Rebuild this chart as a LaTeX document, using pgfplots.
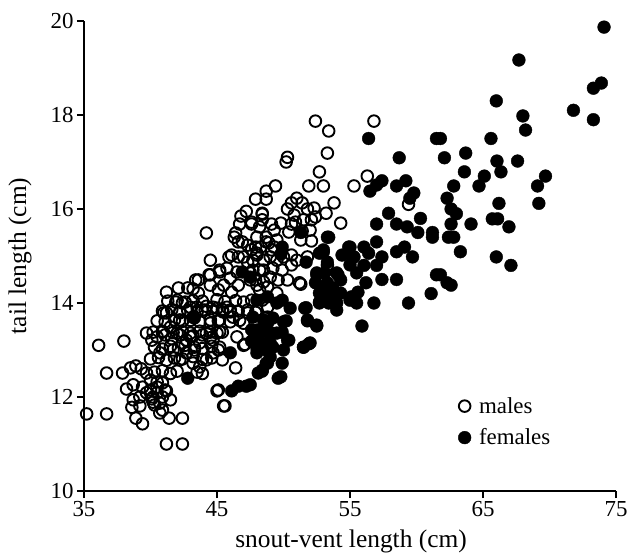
\documentclass[border=0pt]{standalone}
\usepackage{fontspec}
\setmainfont{Liberation Serif}
\usepackage{pgfplots}
\usepackage{pgfplotstable}
\pgfplotsset{compat=1.18}
\pgfplotstableread{
x y
35.2 11.64
36.7 11.64
36.1 13.10
38.0 13.19
36.7 12.51
37.9 12.51
38.5 12.62
38.9 12.66
39.3 12.60
39.7 12.51
38.2 12.17
38.7 12.26
39.4 12.21
40.0 12.15
40.5 12.32
40.9 12.30
41.2 12.13
38.7 11.94
39.2 11.81
38.6 11.78
40.1 11.96
40.3 11.83
40.9 11.72
40.7 11.66
38.9 11.55
39.4 11.43
41.4 11.55
42.4 11.55
41.2 11.00
42.4 11.00
45.5 11.81
45.0 12.13
46.4 12.62
47.0 13.10
39.7 13.36
40.1 13.21
40.9 13.38
41.2 13.79
41.5 13.49
42.0 13.36
42.2 13.64
42.4 13.15
43.0 13.28
43.3 13.00
43.7 13.15
44.2 13.36
44.7 13.21
45.1 13.00
45.4 13.38
46.0 13.85
45.2 13.64
44.5 13.57
43.5 13.91
44.2 13.93
45.0 13.89
45.75 13.91
47.0 13.57
46.5 13.28
40.7 12.94
41.7 13.00
42.2 12.79
42.7 12.94
43.2 12.72
43.7 12.64
44.2 12.79
44.7 12.94
40.0 12.36
40.5 12.21
40.9 12.00
41.5 11.94
40.7 11.87
40.2 12.00
39.7 12.09
39.2 12.00
40.5 13.28
41.1 13.32
41.6 13.24
42.2 13.32
42.7 13.21
43.2 13.30
43.9 13.32
44.5 13.26
45.0 13.36
40.3 13.06
40.9 13.02
41.5 13.08
42.1 13.04
42.6 13.10
43.3 13.06
43.9 13.03
44.6 13.08
45.2 13.06
40.0 12.81
40.6 12.84
41.2 12.78
41.8 12.83
42.4 12.81
43.2 12.86
43.9 12.80
44.6 12.83
45.4 12.79
40.3 12.53
40.9 12.56
41.5 12.50
42.0 12.55
43.5 12.53
43.9 12.50
41.1 12.15
40.5 12.09
40.2 11.89
47.1 13.12
45.1 12.15
45.6 11.81
44.2 15.49
44.5 14.91
46.4 15.49
46.6 15.30
47.3 15.23
47.9 15.19
46.1 15.02
46.6 14.98
47.3 14.87
48.0 15.06
44.5 14.60
45.2 14.66
45.75 14.74
46.0 14.53
41.2 14.23
42.1 14.32
42.8 14.32
43.6 14.49
43.2 14.30
44.5 14.38
45.1 14.28
45.5 14.38
46.1 14.23
46.6 14.38
47.5 14.49
48.0 14.38
41.3 14.04
42.0 14.06
42.6 14.02
43.2 14.05
43.9 14.04
45.0 14.07
45.6 14.03
46.4 14.05
47.0 14.02
47.6 14.06
40.9 13.83
41.6 13.86
42.2 13.81
42.8 13.84
43.5 13.80
44.1 13.85
44.7 13.82
45.4 13.86
46.0 13.81
46.6 13.83
47.3 13.85
47.9 13.80
40.5 13.62
41.1 13.60
41.8 13.64
42.4 13.61
43.0 13.63
43.7 13.60
44.5 13.64
45.1 13.62
46.0 13.60
46.7 13.63
40.2 13.38
40.9 13.40
41.7 13.37
42.4 13.39
43.0 13.36
43.7 13.40
44.5 13.38
45.2 13.39
49.4 16.49
48.7 16.38
47.9 16.21
48.7 16.21
48.4 15.89
48.4 15.77
46.7 15.68
47.6 15.68
48.2 15.62
49.1 15.68
46.3 15.40
46.9 15.30
48.7 15.30
49.3 15.19
45.9 14.98
47.0 14.98
47.7 14.91
45.2 14.70
46.5 14.66
47.5 14.64
48.2 14.70
43.4 14.49
44.4 14.60
43.6 14.21
41.0 13.79
41.9 14.02
42.4 14.00
43.0 13.91
42.2 13.79
43.2 13.70
43.9 13.85
44.7 13.91
45.45 13.81
46.2 13.70
47.3 13.79
48.0 13.85
48.8 13.70
47.2 15.95
46.8 15.85
50.3 17.10
50.2 17.00
53.3 17.19
52.7 16.79
52.4 17.87
56.8 17.87
53.4 17.66
51.9 16.49
53.0 16.49
55.3 16.49
56.3 16.70
51.0 16.23
50.6 16.13
51.4 16.13
50.3 16.00
51.8 16.00
52.3 16.02
53.2 15.91
53.8 16.13
52.4 15.83
51.5 15.77
50.8 15.87
50.9 15.72
50.6 15.68
52.1 15.77
52.0 15.55
51.4 15.53
48.4 15.91
47.6 15.72
49.8 15.70
50.4 15.51
49.3 15.55
48.7 15.40
48.0 15.40
54.3 15.70
52.1 15.32
51.3 15.34
48.9 15.28
49.5 15.34
49.1 15.13
48.3 15.19
47.6 15.13
59.4 16.10
53.3 14.81
51.3 14.40
48.0 15.02
48.5 14.91
49.0 14.98
49.5 14.91
50.0 14.98
50.6 15.02
51.0 14.91
51.8 14.98
47.7 14.70
48.5 14.70
49.2 14.74
49.9 14.70
50.6 14.81
47.9 14.49
48.5 14.45
49.0 14.55
49.6 14.49
50.3 14.49
48.2 14.28
48.8 14.34
49.5 14.21
51.2 14.43
48.4 14.06
48.8 13.91
}\males
\pgfplotstableread{
x y
74.1 19.87
67.7 19.17
73.9 18.68
73.3 18.57
66.0 18.30
71.8 18.10
73.3 17.90
68.0 17.98
68.2 17.68
65.6 17.50
61.8 17.50
62.1 17.09
63.7 17.19
66.05 17.02
67.6 17.02
66.35 16.79
63.6 16.79
65.1 16.70
64.7 16.49
62.8 16.49
69.7 16.70
69.1 16.49
62.3 16.23
66.2 16.12
69.2 16.12
62.6 16.00
63.0 15.90
62.6 15.68
64.1 15.68
65.7 15.79
66.1 15.79
66.95 15.62
62.8 15.40
63.3 15.09
66.0 14.98
67.1 14.80
61.8 14.60
62.6 14.38
56.4 17.50
61.5 17.50
58.7 17.09
57.4 16.60
57.0 16.51
56.5 16.38
59.2 16.60
58.5 16.49
59.8 16.34
59.5 16.23
57.9 15.91
60.3 15.80
57.0 15.68
58.5 15.68
59.3 15.62
60.1 15.50
61.2 15.50
61.2 15.40
62.4 15.40
53.4 15.40
54.9 15.19
56.05 15.19
56.4 15.06
57.0 15.30
58.5 15.09
59.1 15.19
59.7 14.98
53.0 15.09
57.4 14.98
55.3 14.98
56.05 14.80
57.0 14.80
51.3 15.50
49.8 15.04
51.7 14.87
52.5 14.64
53.3 14.43
54.0 14.64
54.3 14.49
56.2 14.43
57.4 14.50
58.5 14.50
61.5 14.60
61.1 14.20
62.3 14.43
52.7 14.21
53.4 14.23
54.3 14.21
55.3 14.13
59.4 14.00
56.8 14.00
55.1 14.13
55.5 14.00
52.7 14.00
54.0 14.00
53.4 14.00
51.7 13.90
51.8 13.62
52.5 13.51
55.9 13.51
50.2 13.62
49.9 13.38
50.4 13.21
51.5 13.06
51.9 13.13
49.9 12.72
48.7 12.72
48.4 12.55
49.8 12.43
47.5 12.26
49.1 13.36
48.0 13.26
47.6 13.43
48.8 12.98
48.0 13.04
46.1 12.13
46.6 12.23
47.2 12.23
46.0 12.94
47.6 13.19
48.1 13.28
48.8 13.57
49.0 13.15
48.4 12.57
48.8 12.72
49.6 12.40
42.8 12.40
48.1 12.51
46.9 14.66
47.5 14.55
43.3 13.68
53.3 15.40
53.0 15.13
55.0 15.19
49.9 15.19
48.0 14.06
48.8 14.13
49.5 14.00
49.9 14.06
50.5 13.89
47.7 13.70
48.5 13.64
49.2 13.68
50.0 13.60
48.1 13.43
48.8 13.38
49.5 13.36
50.3 13.21
48.5 13.13
49.2 13.06
50.0 13.00
49.0 12.85
48.0 12.94
51.6 13.89
51.8 13.64
52.5 13.53
51.5 13.06
52.0 13.15
52.7 15.06
53.3 14.87
54.4 15.02
55.0 14.81
55.5 14.64
52.5 14.60
53.1 14.64
54.1 14.60
52.4 14.43
53.0 14.34
53.7 14.32
53.3 14.21
53.9 14.06
52.7 14.02
54.0 13.85
55.0 14.06
55.6 14.23
55.2 14.96
}\females
\begin{document}
\begin{tikzpicture}
\useasboundingbox (-84bp,-63bp) rectangle (548bp,491bp);
\begin{axis}[
  at={(0,0)}, anchor=south west,
  scale only axis, width=532bp, height=470bp,
  xmin=35, xmax=75, ymin=10, ymax=20,
  xtick={35,45,55,65,75}, ytick={10,12,14,16,18,20},
  axis x line*=bottom, axis y line*=left,
  axis line style={line width=1.5bp, black},
  tick style={line width=1.5bp, black},
  tick align=outside, major tick length=7bp,
  /pgf/number format/assume math mode=true,
  ticklabel style={font=\fontsize{23}{27}\selectfont},
  label style={font=\fontsize{25.5}{29}\selectfont},
  xlabel={snout-vent length (cm)},
  ylabel={tail length (cm)},
  xlabel style={at={(axis description cs:0.502,-0.107)}, anchor=center},
  ylabel style={at={(axis description cs:-0.12,0.5)}, anchor=center},
  clip=false,
  legend style={at={(axis cs:62.9,12.08)}, anchor=north west, draw=none, fill=none,
    font=\fontsize{23}{27}\selectfont, row sep=10bp,
    /tikz/every odd column/.append style={column sep=6bp}},
  legend cell align=left,
]
\addplot[only marks, mark=o, mark size=5.8bp, mark options={fill=white, line width=1.9bp, draw=black}] table {\males};
\addlegendentry{males}
\addplot[only marks, mark=*, mark size=6.4bp, mark options={fill=black, draw=black}] table {\females};
\addlegendentry{females}
\end{axis}
\end{tikzpicture}
\end{document}
